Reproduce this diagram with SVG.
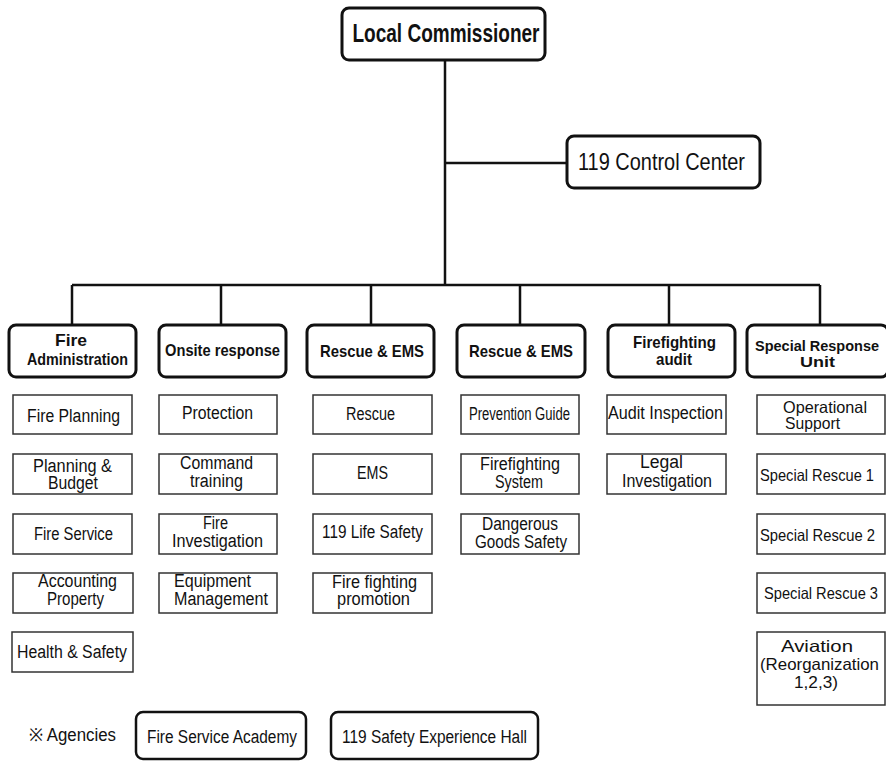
<svg xmlns="http://www.w3.org/2000/svg" width="886" height="761" viewBox="0 0 886 761">
<style>
text{font-family:"Liberation Sans",Arial,sans-serif;fill:#111;text-anchor:middle}
.t1{font-size:25px;font-weight:bold}
.tc{font-size:24px}
.t2{font-size:17px;font-weight:bold}
.t3{font-size:18px}
.t4{font-size:16.5px}
.b1{fill:#fff;stroke:#111;stroke-width:3}
.b3{fill:#fff;stroke:#333;stroke-width:1.5}
.ln{stroke:#111;stroke-width:2.5;fill:none}
</style>
<rect width="886" height="761" fill="#fff"/>
<g id="connectors">
<path class="ln" d="M445 60V285M445 163H567M72 285H820M72 285V325M221 285V325M371 285V325M520 285V325M669 285V325M820 285V325"/>
</g>
<g id="local-commissioner"><rect class="b1" x="342" y="8" width="203" height="52" rx="7"/><text class="t1" x="446" y="42" textLength="187" lengthAdjust="spacingAndGlyphs">Local Commissioner</text></g>
<g id="control-center"><rect class="b1" x="567" y="136" width="193" height="52" rx="7"/><text class="tc" x="661.5" y="170" textLength="167" lengthAdjust="spacingAndGlyphs">119 Control Center</text></g>

<g id="fire-administration"><rect class="b1" x="9" y="325" width="127" height="52" rx="7"/><text class="t2" x="71" y="346" textLength="32" lengthAdjust="spacingAndGlyphs">Fire</text><text class="t2" x="77.5" y="365" textLength="101" lengthAdjust="spacingAndGlyphs">Administration</text></g>
<g id="onsite-response"><rect class="b1" x="159" y="325" width="127" height="52" rx="7"/><text class="t2" x="222.5" y="356" textLength="115" lengthAdjust="spacingAndGlyphs">Onsite response</text></g>
<g id="rescue-ems-1"><rect class="b1" x="307" y="325" width="127" height="52" rx="7"/><text class="t2" x="372" y="357" textLength="104" lengthAdjust="spacingAndGlyphs">Rescue &amp; EMS</text></g>
<g id="rescue-ems-2"><rect class="b1" x="457" y="325" width="128" height="52" rx="7"/><text class="t2" x="521" y="357" textLength="104" lengthAdjust="spacingAndGlyphs">Rescue &amp; EMS</text></g>
<g id="firefighting-audit"><rect class="b1" x="608" y="325" width="127" height="52" rx="7"/><text class="t2" x="674.5" y="348" textLength="83" lengthAdjust="spacingAndGlyphs">Firefighting</text><text class="t2" x="674" y="365" textLength="36" lengthAdjust="spacingAndGlyphs">audit</text></g>
<g id="special-response-unit"><rect class="b1" x="747" y="325" width="141" height="52" rx="7"/><text class="t2" x="817" y="351" style="font-size:15.5px" textLength="124" lengthAdjust="spacingAndGlyphs">Special Response</text><text class="t2" x="817.5" y="367" style="font-size:15.5px" textLength="35" lengthAdjust="spacingAndGlyphs">Unit</text></g>

<g id="fire-planning"><rect class="b3" x="13" y="395" width="119" height="39"/><text class="t3" x="73.5" y="422" textLength="93" lengthAdjust="spacingAndGlyphs">Fire Planning</text></g>
<g id="planning-budget"><rect class="b3" x="13" y="454" width="119" height="40"/><text class="t3" x="72.5" y="472" textLength="79" lengthAdjust="spacingAndGlyphs">Planning &amp;</text><text class="t3" x="73" y="489" textLength="50" lengthAdjust="spacingAndGlyphs">Budget</text></g>
<g id="fire-service"><rect class="b3" x="13" y="514" width="119" height="40"/><text class="t3" x="73.5" y="540" textLength="79" lengthAdjust="spacingAndGlyphs">Fire Service</text></g>
<g id="accounting-property"><rect class="b3" x="13" y="573" width="120" height="40"/><text class="t3" x="77.5" y="587" textLength="79" lengthAdjust="spacingAndGlyphs">Accounting</text><text class="t3" x="75.5" y="605" textLength="57" lengthAdjust="spacingAndGlyphs">Property</text></g>
<g id="health-safety"><rect class="b3" x="12" y="632" width="121" height="40"/><text class="t3" x="72" y="658" textLength="110" lengthAdjust="spacingAndGlyphs">Health &amp; Safety</text></g>

<g id="protection"><rect class="b3" x="159" y="395" width="118" height="39"/><text class="t3" x="217.5" y="419" textLength="71" lengthAdjust="spacingAndGlyphs">Protection</text></g>
<g id="command-training"><rect class="b3" x="159" y="454" width="118" height="40"/><text class="t3" x="216.5" y="469" textLength="73" lengthAdjust="spacingAndGlyphs">Command</text><text class="t3" x="216.5" y="487" textLength="53" lengthAdjust="spacingAndGlyphs">training</text></g>
<g id="fire-investigation"><rect class="b3" x="159" y="514" width="118" height="40"/><text class="t3" x="215.5" y="529" textLength="25" lengthAdjust="spacingAndGlyphs">Fire</text><text class="t3" x="217.5" y="547" textLength="91" lengthAdjust="spacingAndGlyphs">Investigation</text></g>
<g id="equipment-management"><rect class="b3" x="159" y="573" width="118" height="40"/><text class="t3" x="212.5" y="587" textLength="77" lengthAdjust="spacingAndGlyphs">Equipment</text><text class="t3" x="221" y="605" textLength="94" lengthAdjust="spacingAndGlyphs">Management</text></g>

<g id="rescue"><rect class="b3" x="313" y="395" width="119" height="39"/><text class="t3" x="370.5" y="420" textLength="49" lengthAdjust="spacingAndGlyphs">Rescue</text></g>
<g id="ems"><rect class="b3" x="313" y="454" width="119" height="40"/><text class="t3" x="372.5" y="479" textLength="31" lengthAdjust="spacingAndGlyphs">EMS</text></g>
<g id="life-safety"><rect class="b3" x="313" y="514" width="119" height="40"/><text class="t3" x="372.5" y="538" textLength="101" lengthAdjust="spacingAndGlyphs">119 Life Safety</text></g>
<g id="fire-fighting-promotion"><rect class="b3" x="313" y="573" width="119" height="40"/><text class="t3" x="374.5" y="588" textLength="85" lengthAdjust="spacingAndGlyphs">Fire fighting</text><text class="t3" x="373.5" y="605" textLength="73" lengthAdjust="spacingAndGlyphs">promotion</text></g>

<g id="prevention-guide"><rect class="b3" x="461" y="395" width="118" height="39"/><text class="t3" x="519.5" y="420" textLength="101" lengthAdjust="spacingAndGlyphs">Prevention Guide</text></g>
<g id="firefighting-system"><rect class="b3" x="461" y="454" width="118" height="40"/><text class="t3" x="520" y="470" textLength="80" lengthAdjust="spacingAndGlyphs">Firefighting</text><text class="t3" x="519" y="488" textLength="48" lengthAdjust="spacingAndGlyphs">System</text></g>
<g id="dangerous-goods"><rect class="b3" x="461" y="514" width="118" height="40"/><text class="t3" x="520" y="530" textLength="76" lengthAdjust="spacingAndGlyphs">Dangerous</text><text class="t3" x="521" y="548" textLength="92" lengthAdjust="spacingAndGlyphs">Goods Safety</text></g>

<g id="audit-inspection"><rect class="b3" x="607" y="395" width="119" height="39"/><text class="t3" x="665.5" y="419" textLength="115" lengthAdjust="spacingAndGlyphs">Audit Inspection</text></g>
<g id="legal-investigation"><rect class="b3" x="607" y="454" width="119" height="40"/><text class="t3" x="661.5" y="468" textLength="43" lengthAdjust="spacingAndGlyphs">Legal</text><text class="t3" x="667" y="487" textLength="90" lengthAdjust="spacingAndGlyphs">Investigation</text></g>

<g id="operational-support"><rect class="b3" x="757" y="395" width="128" height="39"/><text class="t4" x="825" y="413" textLength="84" lengthAdjust="spacingAndGlyphs">Operational</text><text class="t4" x="812.5" y="429" textLength="55" lengthAdjust="spacingAndGlyphs">Support</text></g>
<g id="special-rescue-1"><rect class="b3" x="757" y="454" width="128" height="40"/><text class="t4" x="817" y="481" textLength="114" lengthAdjust="spacingAndGlyphs">Special Rescue 1</text></g>
<g id="special-rescue-2"><rect class="b3" x="757" y="514" width="128" height="40"/><text class="t4" x="817.5" y="541" textLength="115" lengthAdjust="spacingAndGlyphs">Special Rescue 2</text></g>
<g id="special-rescue-3"><rect class="b3" x="757" y="573" width="128" height="40"/><text class="t4" x="821" y="599" textLength="114" lengthAdjust="spacingAndGlyphs">Special Rescue 3</text></g>
<g id="aviation"><rect class="b3" x="757" y="632" width="128" height="73"/><text class="t4" x="817" y="652" textLength="72" lengthAdjust="spacingAndGlyphs">Aviation</text><text class="t4" x="819.5" y="670" textLength="119" lengthAdjust="spacingAndGlyphs">(Reorganization</text><text class="t4" x="816" y="688" textLength="44" lengthAdjust="spacingAndGlyphs">1,2,3)</text></g>

<g id="agencies-label"><text class="t3" x="29" y="741" style="text-anchor:start" textLength="87" lengthAdjust="spacingAndGlyphs">※ Agencies</text></g>
<g id="fire-service-academy"><rect class="b1" x="136" y="712" width="170" height="47" rx="7" style="stroke-width:2.5"/><text class="t3" x="222" y="743" textLength="150" lengthAdjust="spacingAndGlyphs">Fire Service Academy</text></g>
<g id="safety-experience-hall"><rect class="b1" x="331" y="712" width="207" height="47" rx="7" style="stroke-width:2.5"/><text class="t3" x="434.5" y="743" textLength="185" lengthAdjust="spacingAndGlyphs">119 Safety Experience Hall</text></g>
</svg>
